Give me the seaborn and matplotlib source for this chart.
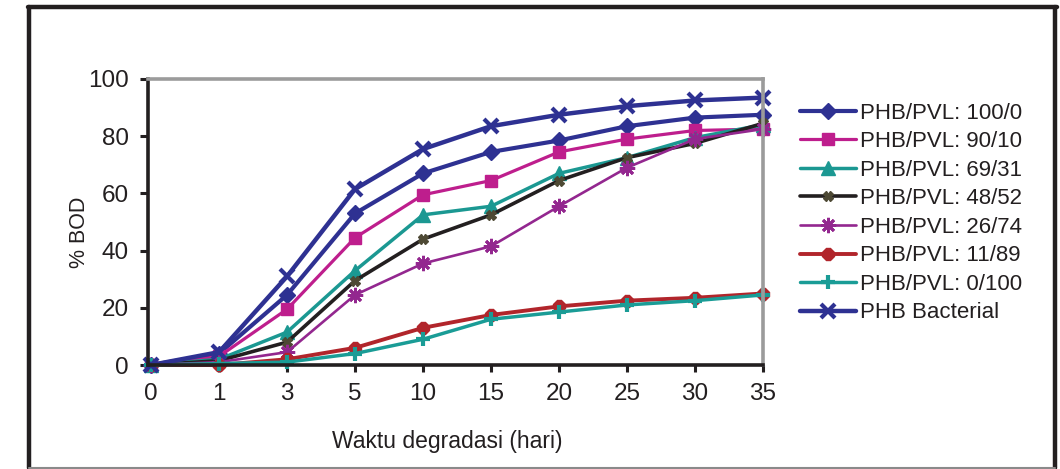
import matplotlib
matplotlib.use("Agg")
import matplotlib.pyplot as plt
from matplotlib.lines import Line2D
import numpy as np
import pandas as pd
import seaborn as sns

# Degradation time (days) - plotted as evenly spaced categories
days = [0, 1, 3, 5, 10, 15, 20, 25, 30, 35]

# % BOD for each blend
bod_100_0 = [0, 4, 24.5, 53, 67, 74.5, 78.5, 83.5, 86.5, 87.5]
bod_90_10 = [0, 3, 19.5, 44.5, 59.5, 64.5, 74.5, 79, 82, 82.5]
bod_69_31 = [0, 2, 11.5, 33, 52.5, 55.5, 67, 72.5, 79.5, 84]
bod_48_52 = [0, 1.5, 8, 29.5, 44, 52.5, 64.5, 72.5, 77.5, 84.5]
bod_26_74 = [0, 1, 4.5, 24.5, 35.5, 41.5, 55.5, 69, 79, 82.5]
bod_11_89 = [0, 0, 2, 6, 13, 17.5, 20.5, 22.5, 23.5, 25]
bod_0_100 = [0, 0.5, 1, 4, 9, 16, 18.5, 21, 22.5, 24.5]
bod_bacterial = [0, 4.5, 31, 61.5, 75.5, 83.5, 87.5, 90.5, 92.5, 93.5]

labels = ["PHB/PVL: 100/0", "PHB/PVL: 90/10", "PHB/PVL: 69/31", "PHB/PVL: 48/52",
          "PHB/PVL: 26/74", "PHB/PVL: 11/89", "PHB/PVL: 0/100", "PHB Bacterial"]
series = [bod_100_0, bod_90_10, bod_69_31, bod_48_52,
          bod_26_74, bod_11_89, bod_0_100, bod_bacterial]

# line colour, marker colour, marker, marker size, edge width, line width
styles = [
    ("#2E3192", "#2E3192", "D", 8.5, 1.0, 3.0),
    ("#BE1E8D", "#BE1E8D", "s", 9.0, 1.0, 2.3),
    ("#1B9892", "#1B9892", "^", 10.0, 1.0, 2.5),
    ("#231F20", "#4D4934", "X", 7.0, 1.0, 2.6),
    ("#93278F", "#93278F", (8, 2, 0), 11.0, 2.0, 1.9),
    ("#B1252B", "#B1252B", "8", 9.0, 1.0, 2.8),
    ("#1A9C96", "#1A9C96", "+", 10.0, 3.0, 2.5),
    ("#2E3192", "#2E3192", "x", 9.5, 3.0, 3.2),
]

sns.set_theme(style="white")
plt.rcParams["font.family"] = ["Liberation Sans", "DejaVu Sans"]

fig = plt.figure(figsize=(10.6, 4.69), dpi=100)
ax = fig.add_axes([148 / 1060, 1 - 365 / 469, (763 - 148) / 1060, (365 - 79) / 469])

xpos = np.arange(len(days))
for lab, vals, (lc, fc, mk, ms, mew, lw) in zip(labels, series, styles):
    df = pd.DataFrame({"pos": xpos, "bod": vals})
    sns.lineplot(data=df, x="pos", y="bod", ax=ax, color=lc, linewidth=lw,
                 marker=mk, markersize=ms, markerfacecolor=fc,
                 markeredgecolor=fc, markeredgewidth=mew, label=lab,
                 clip_on=False)

ax.set_xlim(-0.045, 9.0)
ax.set_ylim(0, 100)
ax.set_xticks(xpos)
ax.set_xticklabels([str(d) for d in days])
ax.set_yticks([0, 20, 40, 60, 80, 100])

ax.tick_params(axis="both", which="major", labelsize=17.5, colors="#231F20",
               length=6, width=2.2, direction="out", labelcolor="#231F20")
ax.tick_params(axis="y", pad=8)
ax.tick_params(axis="x", pad=8, length=5)
ax.tick_params(bottom=True, left=True)

for side in ("left", "bottom"):
    ax.spines[side].set_color("#231F20")
    ax.spines[side].set_linewidth(2.6)
for side in ("top", "right"):
    ax.spines[side].set_color("#9B9B9B")
    ax.spines[side].set_linewidth(2.6)
    ax.spines[side].set_visible(True)

ax.set_xlabel("Waktu degradasi (hari)", fontsize=16.5, color="#231F20")
ax.set_ylabel("% BOD", fontsize=15.5, color="#231F20")
ax.xaxis.set_label_coords((447 - 148) / 615, (365 - 430) / 286)
ax.yaxis.set_label_coords((90 - 148) / 615, (365 - 232) / 286)

leg = ax.legend(loc="center left", bbox_to_anchor=(800 / 1060, 1 - 213 / 469),
                bbox_transform=fig.transFigure, frameon=False, fontsize=16,
                handlelength=2.5, handletextpad=0.2, borderpad=0, borderaxespad=0,
                labelspacing=0.34)
for t in leg.get_texts():
    t.set_color("#231F20")

# outer frame around the whole figure
W, H = 1060, 469
fig.add_artist(Line2D([29 / W, 29 / W], [1 - 7 / H, 1 - 468 / H], color="#231F20", lw=3.2))
fig.add_artist(Line2D([27.5 / W, 1056.5 / W], [1 - 7 / H, 1 - 7 / H], color="#231F20", lw=3.2))
fig.add_artist(Line2D([1055 / W, 1055 / W], [1 - 7 / H, 1 - 468 / H], color="#231F20", lw=3.2))
fig.add_artist(Line2D([29 / W, 1055 / W], [1 - 467.5 / H, 1 - 467.5 / H], color="#8A8A8A", lw=1.5))

fig.savefig("out.png", dpi=100, facecolor="white")
